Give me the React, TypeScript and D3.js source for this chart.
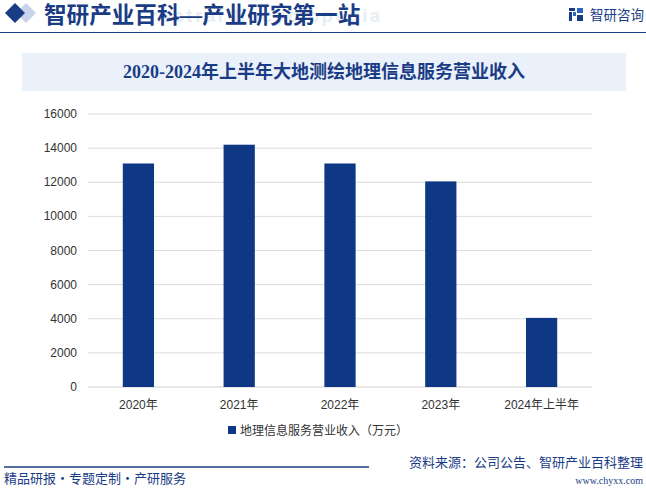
import React from "react";
import * as d3 from "d3";

const categories = ["2020年", "2021年", "2022年", "2023年", "2024年上半年"];
const values = [13100, 14200, 13100, 12050, 4050];
const yTicks = [0, 2000, 4000, 6000, 8000, 10000, 12000, 14000, 16000];
const seriesName = "地理信息服务营业收入（万元）";
const chartTitle = "2020-2024年上半年大地测绘地理信息服务营业收入";
const headerTitle = "智研产业百科—产业研究第一站";

const W = 646;
const H = 488;
const BLUE = "#1a3c85";
const BAR = "#0e3884";
const CJK = "'Noto Sans CJK SC', sans-serif";
const SANS = "'Liberation Sans', Arial, 'Noto Sans CJK SC', sans-serif";

export default function App() {
  const left = 88, right = 592, top = 114, bottom = 387;
  const x = d3.scaleBand().domain(categories).range([left, right]).paddingInner(0.69).paddingOuter(0.345);
  const y = d3.scaleLinear().domain([0, 16000]).range([bottom, top]);

  return (
    <svg width={W} height={H} style={{ position: "absolute", left: 0, top: 0, background: "#fff" }}>
      <rect x={0} y={0} width={W} height={H} fill="#fff" />
      {/* header */}
      <path d="M20 3 L30 13 L20 23 L10 13 Z" fill="#c9d4ea" transform="translate(6,0)" />
      <path d="M15 3 L25 13 L15 23 L5 13 Z" fill={BLUE} />
      <text x={150} y={22} fontFamily={SANS} fontSize={18} fill="#e8edf5" fontWeight="bold" textLength={230} lengthAdjust="spacing">
        ructral Encyclopedia
      </text>
      <text x={44} y={23} fontFamily={"'Liberation Serif', " + CJK} fontSize={22.6} fontWeight="bold" fill={BLUE}>
        {headerTitle}
      </text>
      <line x1={0} x2={W} y1={32.5} y2={32.5} stroke={BLUE} strokeWidth={1.2} />
      {/* logo */}
      <g>
        <rect x={569} y={8} width={6} height={3} fill={BLUE} />
        <rect x={569} y={12} width={3} height={9} fill={BLUE} />
        <rect x={573} y={12} width={3} height={4} fill="#2c64c4" />
        <rect x={577} y={8} width={6} height={5} fill="#2c64c4" />
        <rect x={577} y={15} width={6} height={6} fill={BLUE} />
      </g>
      <text x={590} y={20} fontFamily={CJK} fontSize={13.5} fill={BLUE}>智研咨询</text>
      {/* chart title box */}
      <rect x={22} y={53} width={604} height={38} fill="#eaf1fb" />
      <text x={324} y={78} textAnchor="middle" fontFamily={"'Liberation Serif', " + CJK} fontSize={18} fontWeight="bold" fill={BLUE}>
        {chartTitle}
      </text>
      {/* grid + y labels */}
      {yTicks.map((t) => (
        <g key={t}>
          <line x1={left} x2={right} y1={y(t)} y2={y(t)} stroke={t === 0 ? "#d0d0d0" : "#dcdcdc"} strokeWidth={1} />
          <text x={77} y={y(t) + 4} textAnchor="end" fontFamily={SANS} fontSize={12} fill="#333">
            {t}
          </text>
        </g>
      ))}
      {/* bars */}
      {categories.map((c, i) => (
        <rect key={c} x={x(c)} y={y(values[i])} width={x.bandwidth()} height={bottom - y(values[i])} fill={BAR} />
      ))}
      {/* x labels */}
      {categories.map((c) => (
        <text key={c} x={(x(c) as number) + x.bandwidth() / 2} y={409} textAnchor="middle" fontFamily={SANS} fontSize={12} fill="#333">
          {c}
        </text>
      ))}
      {/* legend */}
      <rect x={228} y={426} width={8} height={8} fill={BAR} />
      <text x={240} y={435} fontFamily={SANS} fontSize={12} fill="#333">{seriesName}</text>
      {/* footer */}
      <line x1={4} x2={369} y1={467} y2={467} stroke={BLUE} strokeWidth={1.5} />
      <text x={4} y={483} fontFamily={CJK} fontSize={13} fill={BLUE}>精品研报·专题定制·产研服务</text>
      <text x={643} y={467} textAnchor="end" fontFamily={CJK} fontSize={13} fill={BLUE}>资料来源：公司公告、智研产业百科整理</text>
      <text x={643} y={484} textAnchor="end" fontFamily="'Liberation Serif', serif" fontSize={10} fill={BLUE}>www.chyxx.com</text>
    </svg>
  );
}
